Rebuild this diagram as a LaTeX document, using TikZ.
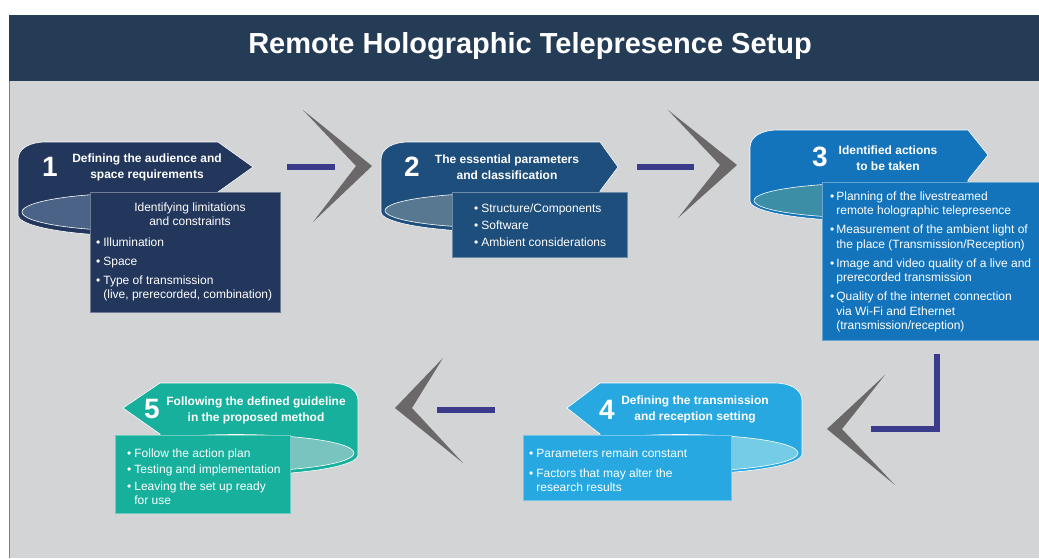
\documentclass[tikz,border=0pt]{standalone}
\usepackage{fontspec}
\setmainfont{Liberation Sans}

\definecolor{titlebar}{HTML}{243C55}
\definecolor{panel}{HTML}{D3D4D6}
\definecolor{chevgray}{HTML}{6B6869}
\definecolor{barblue}{HTML}{3B3B8B}
\definecolor{onedark}{HTML}{22375B}
\definecolor{onelight}{HTML}{4B6386}
\definecolor{twodark}{HTML}{1E4E7B}
\definecolor{twolight}{HTML}{587891}
\definecolor{threedark}{HTML}{1474BB}
\definecolor{threelight}{HTML}{3B8EA6}
\definecolor{fourdark}{HTML}{28A8E0}
\definecolor{fourlight}{HTML}{74CCE6}
\definecolor{fivedark}{HTML}{17B09C}
\definecolor{fivelight}{HTML}{79C4BF}

\tikzset{
  band/.style={draw=white, line width=0.6pt},
  infobox/.style={rectangle, fill=#1, draw=#1!65!white, line width=0.6pt,
    inner sep=0pt, outer sep=0pt, anchor=north west},
  numtext/.style={text=white, font=\bfseries\fontsize{28}{30}\selectfont, inner sep=0pt},
  headtext/.style={text=white, font=\bfseries\fontsize{12}{16}\selectfont, align=center, inner sep=0pt},
  listtext/.style={text=white, font=\fontsize{12}{14.5}\selectfont, inner sep=0pt, anchor=base west},
  chev/.style={fill=chevgray},
  connbar/.style={draw=barblue, line width=6pt},
}

\begin{document}
\begin{tikzpicture}[x=1pt,y=-1pt]
  \useasboundingbox (0,0) rectangle (1039,558);
  % background and title
  \fill[white] (0,0) rectangle (1039,558);
  \fill[panel] (9,81) rectangle (1039,558);
  \draw[panel!60!black, line width=1pt] (9.5,81) -- (9.5,558);
  \fill[titlebar] (9,15) rectangle (1039,81);
  \node[text=white, font=\bfseries\fontsize{29}{32}\selectfont, anchor=base] (ttl) at (530,53) {Remote Holographic Telepresence Setup};

  % step 1
  \filldraw[band, fill=onedark] (18,215) -- (18,160) .. controls (18,148) and (30,142) .. (46,142)
    -- (218,142) -- (253,167) -- (218,192) -- (218,215) -- (258,215)
    arc[start angle=0, end angle=180, x radius=120, y radius=21] -- cycle;
  \filldraw[band, fill=onelight] (140,212) ellipse [x radius=118, y radius=19];
  \node[numtext] (n1) at (50,167) {1};
  \node[headtext] (h1) at (147,167) {Defining the audience and\\space requirements};
  \node[infobox=onedark, minimum width=190, minimum height=120] (box1) at (90,192) {};
  \node[listtext, anchor=center, align=center] (t1) at (190,214) {Identifying limitations\\and constraints};
  \node[listtext] (l1) at (96,246) {\begin{tabular}[t]{@{}l@{\hspace{3pt}}l@{}}
    \textbullet & Illumination\\[4.5pt]
    \textbullet & Space\\[4.5pt]
    \textbullet & Type of transmission\\
                & (live, prerecorded, combination)
  \end{tabular}};

  % step 2
  \filldraw[band, fill=twodark] (381,212) -- (381,160) .. controls (381,148) and (393,142) .. (409,142)
    -- (600,142) -- (618,167) -- (600,191) -- (600,212) -- (621,212)
    arc[start angle=0, end angle=180, x radius=120, y radius=20] -- cycle;
  \filldraw[band, fill=twolight] (503,210.5) ellipse [x radius=118, y radius=17.5];
  \node[numtext] (n2) at (412,167) {2};
  \node[headtext] (h2) at (507,167) {The essential parameters\\and classification};
  \node[infobox=twodark, minimum width=175, minimum height=65] (box2) at (452,192) {};
  \node[listtext] (l2) at (474,212) {\begin{tabular}[t]{@{}l@{\hspace{3pt}}l@{}}
    \textbullet & Structure/Components\\[2.5pt]
    \textbullet & Software\\[2.5pt]
    \textbullet & Ambient considerations
  \end{tabular}};

  % step 3
  \filldraw[band, fill=threedark] (750,201) -- (750,148) .. controls (750,136) and (762,130) .. (778,130)
    -- (968,130) -- (988,155) -- (968,180) -- (968,201) -- (990,201)
    arc[start angle=0, end angle=180, x radius=120, y radius=20] -- cycle;
  \filldraw[band, fill=threelight] (872,200.5) ellipse [x radius=118, y radius=17.5];
  \node[numtext] (n3) at (820,157) {3};
  \node[headtext] (h3) at (888,158) {Identified actions\\to be taken};
  \node[infobox=threedark, minimum width=217, minimum height=158] (box3) at (822,182) {};
  \node[listtext] (l3) at (830,200) {\begin{tabular}[t]{@{}l@{\hspace{2pt}}l@{}}
    \textbullet & Planning of the livestreamed\\
                & remote holographic telepresence\\[4.5pt]
    \textbullet & Measurement of the ambient light of\\
                & the place (Transmission/Reception)\\[4.5pt]
    \textbullet & Image and video quality of a live and\\
                & prerecorded transmission\\[4.5pt]
    \textbullet & Quality of the internet connection\\
                & via Wi-Fi and Ethernet\\
                & (transmission/reception)
  \end{tabular}};

  % step 4
  \filldraw[band, fill=fourdark] (802,454) -- (802,401) .. controls (802,389) and (790,383) .. (774,383)
    -- (600,383) -- (567,408) -- (600,434) -- (600,454) -- (562,454)
    arc[start angle=180, end angle=0, x radius=120, y radius=20] -- cycle;
  \filldraw[band, fill=fourlight] (680,453) ellipse [x radius=118, y radius=18.5];
  \node[numtext] (n4) at (607,410) {4};
  \node[headtext] (h4) at (695,409) {Defining the transmission\\and reception setting};
  \node[infobox=fourdark, minimum width=208, minimum height=65] (box4) at (523,435) {};
  \node[listtext] (l4) at (529,457) {\begin{tabular}[t]{@{}l@{\hspace{3pt}}l@{}}
    \textbullet & Parameters remain constant\\[5.5pt]
    \textbullet & Factors that may alter the\\
                & research results
  \end{tabular}};

  % step 5
  \filldraw[band, fill=fivedark] (358,455) -- (358,401) .. controls (358,389) and (346,383) .. (330,383)
    -- (160,383) -- (123,408) -- (160,434) -- (160,455) -- (118,455)
    arc[start angle=180, end angle=0, x radius=120, y radius=20] -- cycle;
  \filldraw[band, fill=fivelight] (236,453) ellipse [x radius=118, y radius=18.5];
  \node[numtext] (n5) at (152,409) {5};
  \node[headtext] (h5) at (256,410) {Following the defined guideline\\in the proposed method};
  \node[infobox=fivedark, minimum width=175, minimum height=78] (box5) at (115,435) {};
  \node[listtext] (l5) at (127,457) {\begin{tabular}[t]{@{}l@{\hspace{3pt}}l@{}}
    \textbullet & Follow the action plan\\[2pt]
    \textbullet & Testing and implementation\\[2pt]
    \textbullet & Leaving the set up ready\\
                & for use
  \end{tabular}};

  % bars and chevrons between the steps
  \draw[connbar] (287,167) -- (335,167);
  \fill[chev] (303,110) -- (372,166) -- (313,222) -- (356,166) -- cycle;
  \draw[connbar] (637,167) -- (694,167);
  \fill[chev] (668,110) -- (737,165) -- (678,218) -- (720,165) -- cycle;
  \draw[connbar, miter limit=4] (937,354) -- (937,429) -- (871,429);
  \fill[chev] (885,375) -- (827,429) -- (895,485) -- (842,429) -- cycle;
  \draw[connbar] (437,409.5) -- (495,409.5);
  \fill[chev] (443,358) -- (395,408) -- (463,463) -- (412,408) -- cycle;
\end{tikzpicture}
\end{document}
